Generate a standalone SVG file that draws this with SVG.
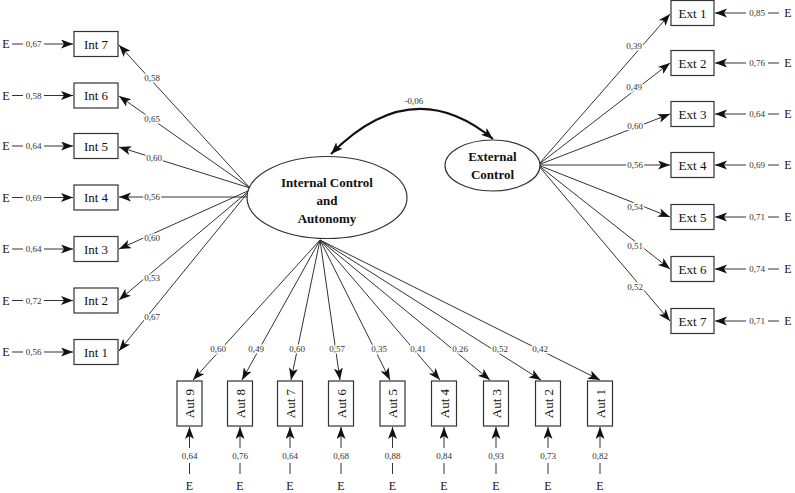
<svg xmlns="http://www.w3.org/2000/svg" width="795" height="493" viewBox="0 0 795 493">
<style>
.bx{fill:#fff;stroke:#333;stroke-width:1.2}
.ln{stroke:#333;stroke-width:1;fill:none}
.bl{font-family:"Liberation Serif","DejaVu Serif",serif;font-size:13px;fill:#111;text-anchor:middle}
.v{font-family:"Liberation Serif","DejaVu Serif",serif;font-size:9px;fill:#333;text-anchor:middle;stroke:#fff;stroke-width:3;paint-order:stroke}
.e{font-family:"Liberation Serif","DejaVu Serif",serif;font-size:12px;fill:#111;text-anchor:middle}
.lv{font-family:"Liberation Serif","DejaVu Serif",serif;font-size:13px;font-weight:bold;fill:#111;text-anchor:middle}
</style>
<defs>
<marker id="ar" markerUnits="userSpaceOnUse" markerWidth="14" markerHeight="10" refX="12" refY="4.5" orient="auto-start-reverse" viewBox="0 0 14 10">
<path d="M0,0 L12,4.5 L0,9 L3,4.5 z" fill="#111"/>
</marker>
</defs>
<g id="connectors">
<!-- correlation -->
<path d="M331,154 Q412,72 493,139" stroke="#111" stroke-width="2" fill="none" marker-start="url(#ar)" marker-end="url(#ar)"/>
<text class="v" x="414" y="104">-0,06</text>
<!-- Int loadings -->
<g class="ln">
<line x1="250" y1="188" x2="119" y2="45" marker-end="url(#ar)"/>
<line x1="250" y1="188" x2="119" y2="96" marker-end="url(#ar)"/>
<line x1="250" y1="188" x2="119" y2="147" marker-end="url(#ar)"/>
<line x1="250" y1="197" x2="119" y2="197" marker-end="url(#ar)"/>
<line x1="250" y1="190" x2="119" y2="249" marker-end="url(#ar)"/>
<line x1="250" y1="190" x2="119" y2="300" marker-end="url(#ar)"/>
<line x1="250" y1="190" x2="119" y2="351" marker-end="url(#ar)"/>
</g>
<text class="v" x="152" y="81">0,58</text>
<text class="v" x="152" y="122">0,65</text>
<text class="v" x="154" y="161">0,60</text>
<text class="v" x="152" y="200">0,56</text>
<text class="v" x="152" y="241">0,60</text>
<text class="v" x="152" y="281">0,53</text>
<text class="v" x="152" y="320">0,67</text>
<!-- Int errors -->
<g class="ln">
<line x1="12" y1="44" x2="23" y2="44"/><line x1="44" y1="44" x2="73" y2="44" marker-end="url(#ar)"/>
<line x1="12" y1="95.5" x2="23" y2="95.5"/><line x1="44" y1="95.5" x2="73" y2="95.5" marker-end="url(#ar)"/>
<line x1="12" y1="146" x2="23" y2="146"/><line x1="44" y1="146" x2="73" y2="146" marker-end="url(#ar)"/>
<line x1="12" y1="197.5" x2="23" y2="197.5"/><line x1="44" y1="197.5" x2="73" y2="197.5" marker-end="url(#ar)"/>
<line x1="12" y1="249" x2="23" y2="249"/><line x1="44" y1="249" x2="73" y2="249" marker-end="url(#ar)"/>
<line x1="12" y1="300.5" x2="23" y2="300.5"/><line x1="44" y1="300.5" x2="73" y2="300.5" marker-end="url(#ar)"/>
<line x1="12" y1="352" x2="23" y2="352"/><line x1="44" y1="352" x2="73" y2="352" marker-end="url(#ar)"/>
</g>
<text class="e" x="6" y="48">E</text><text class="v" x="33.5" y="47">0,67</text>
<text class="e" x="6" y="99.5">E</text><text class="v" x="33.5" y="98.5">0,58</text>
<text class="e" x="6" y="150">E</text><text class="v" x="33.5" y="149">0,64</text>
<text class="e" x="6" y="201.5">E</text><text class="v" x="33.5" y="200.5">0,69</text>
<text class="e" x="6" y="253">E</text><text class="v" x="33.5" y="252">0,64</text>
<text class="e" x="6" y="304.5">E</text><text class="v" x="33.5" y="303.5">0,72</text>
<text class="e" x="6" y="356">E</text><text class="v" x="33.5" y="355">0,56</text>
<!-- Ext loadings -->
<g class="ln">
<line x1="538" y1="165" x2="670" y2="14" marker-end="url(#ar)"/>
<line x1="538" y1="165" x2="670" y2="63" marker-end="url(#ar)"/>
<line x1="538" y1="165" x2="670" y2="114" marker-end="url(#ar)"/>
<line x1="538" y1="165" x2="670" y2="165" marker-end="url(#ar)"/>
<line x1="538" y1="165" x2="670" y2="217" marker-end="url(#ar)"/>
<line x1="538" y1="165" x2="670" y2="269" marker-end="url(#ar)"/>
<line x1="538" y1="165" x2="670" y2="321" marker-end="url(#ar)"/>
</g>
<text class="v" x="634" y="49">0,39</text>
<text class="v" x="634" y="90">0,49</text>
<text class="v" x="635" y="129">0,60</text>
<text class="v" x="635" y="168">0,56</text>
<text class="v" x="635" y="210">0,54</text>
<text class="v" x="635" y="249">0,51</text>
<text class="v" x="635" y="290">0,52</text>
<!-- Ext errors -->
<g class="ln">
<line x1="746" y1="13" x2="715" y2="13" marker-end="url(#ar)"/><line x1="768" y1="13" x2="779" y2="13"/>
<line x1="746" y1="63" x2="715" y2="63" marker-end="url(#ar)"/><line x1="768" y1="63" x2="779" y2="63"/>
<line x1="746" y1="114" x2="715" y2="114" marker-end="url(#ar)"/><line x1="768" y1="114" x2="779" y2="114"/>
<line x1="746" y1="165" x2="715" y2="165" marker-end="url(#ar)"/><line x1="768" y1="165" x2="779" y2="165"/>
<line x1="746" y1="217" x2="715" y2="217" marker-end="url(#ar)"/><line x1="768" y1="217" x2="779" y2="217"/>
<line x1="746" y1="269" x2="715" y2="269" marker-end="url(#ar)"/><line x1="768" y1="269" x2="779" y2="269"/>
<line x1="746" y1="321" x2="715" y2="321" marker-end="url(#ar)"/><line x1="768" y1="321" x2="779" y2="321"/>
</g>
<text class="v" x="757" y="16">0,85</text><text class="e" x="788" y="17">E</text>
<text class="v" x="757" y="66">0,76</text><text class="e" x="788" y="67">E</text>
<text class="v" x="757" y="117">0,64</text><text class="e" x="788" y="118">E</text>
<text class="v" x="757" y="168">0,69</text><text class="e" x="788" y="169">E</text>
<text class="v" x="757" y="220">0,71</text><text class="e" x="788" y="221">E</text>
<text class="v" x="757" y="272">0,74</text><text class="e" x="788" y="273">E</text>
<text class="v" x="757" y="324">0,71</text><text class="e" x="788" y="325">E</text>
<!-- Aut loadings -->
<g class="ln">
<line x1="320" y1="240" x2="193" y2="380" marker-end="url(#ar)"/>
<line x1="320" y1="240" x2="242" y2="380" marker-end="url(#ar)"/>
<line x1="320" y1="240" x2="291" y2="380" marker-end="url(#ar)"/>
<line x1="320" y1="240" x2="340" y2="380" marker-end="url(#ar)"/>
<line x1="320" y1="240" x2="390" y2="380" marker-end="url(#ar)"/>
<line x1="320" y1="240" x2="440" y2="380" marker-end="url(#ar)"/>
<line x1="320" y1="240" x2="490" y2="380" marker-end="url(#ar)"/>
<line x1="320" y1="240" x2="541" y2="380" marker-end="url(#ar)"/>
<line x1="320" y1="240" x2="600" y2="380" marker-end="url(#ar)"/>
</g>
<text class="v" x="218" y="352">0,60</text>
<text class="v" x="256" y="352">0,49</text>
<text class="v" x="297" y="352">0,60</text>
<text class="v" x="337" y="352">0,57</text>
<text class="v" x="379" y="352">0,35</text>
<text class="v" x="418" y="352">0,41</text>
<text class="v" x="460" y="352">0,26</text>
<text class="v" x="500" y="352">0,52</text>
<text class="v" x="540" y="352">0,42</text>
<!-- Aut errors -->
<g class="ln">
<line x1="189.5" y1="448" x2="189.5" y2="427" marker-end="url(#ar)"/><line x1="189.5" y1="463" x2="189.5" y2="474"/>
<line x1="240" y1="448" x2="240" y2="427" marker-end="url(#ar)"/><line x1="240" y1="463" x2="240" y2="474"/>
<line x1="290" y1="448" x2="290" y2="427" marker-end="url(#ar)"/><line x1="290" y1="463" x2="290" y2="474"/>
<line x1="341" y1="448" x2="341" y2="427" marker-end="url(#ar)"/><line x1="341" y1="463" x2="341" y2="474"/>
<line x1="392.5" y1="448" x2="392.5" y2="427" marker-end="url(#ar)"/><line x1="392.5" y1="463" x2="392.5" y2="474"/>
<line x1="444" y1="448" x2="444" y2="427" marker-end="url(#ar)"/><line x1="444" y1="463" x2="444" y2="474"/>
<line x1="496" y1="448" x2="496" y2="427" marker-end="url(#ar)"/><line x1="496" y1="463" x2="496" y2="474"/>
<line x1="548" y1="448" x2="548" y2="427" marker-end="url(#ar)"/><line x1="548" y1="463" x2="548" y2="474"/>
<line x1="600" y1="448" x2="600" y2="427" marker-end="url(#ar)"/><line x1="600" y1="463" x2="600" y2="474"/>
</g>
<text class="v" x="189.5" y="459">0,64</text><text class="e" x="189.5" y="490">E</text>
<text class="v" x="240" y="459">0,76</text><text class="e" x="240" y="490">E</text>
<text class="v" x="290" y="459">0,64</text><text class="e" x="290" y="490">E</text>
<text class="v" x="341" y="459">0,68</text><text class="e" x="341" y="490">E</text>
<text class="v" x="392.5" y="459">0,88</text><text class="e" x="392.5" y="490">E</text>
<text class="v" x="444" y="459">0,84</text><text class="e" x="444" y="490">E</text>
<text class="v" x="496" y="459">0,93</text><text class="e" x="496" y="490">E</text>
<text class="v" x="548" y="459">0,73</text><text class="e" x="548" y="490">E</text>
<text class="v" x="600" y="459">0,82</text><text class="e" x="600" y="490">E</text>
</g>
<g id="internal"><ellipse cx="327" cy="197.5" rx="80" ry="41" class="bx"/>
<text class="lv" x="327" y="187">Internal Control</text><text class="lv" x="327" y="205">and</text><text class="lv" x="327" y="223">Autonomy</text></g>
<g id="external"><ellipse cx="492.5" cy="165.5" rx="47.5" ry="25.5" class="bx"/>
<text class="lv" x="492.5" y="161">External</text><text class="lv" x="492.5" y="179">Control</text></g>
<g id="int7"><rect class="bx" x="74" y="31.5" width="44" height="25"/><text class="bl" x="96" y="48.5">Int 7</text></g>
<g id="int6"><rect class="bx" x="74" y="83" width="44" height="25"/><text class="bl" x="96" y="100">Int 6</text></g>
<g id="int5"><rect class="bx" x="74" y="133.5" width="44" height="25"/><text class="bl" x="96" y="150.5">Int 5</text></g>
<g id="int4"><rect class="bx" x="74" y="185" width="44" height="25"/><text class="bl" x="96" y="202">Int 4</text></g>
<g id="int3"><rect class="bx" x="74" y="236.5" width="44" height="25"/><text class="bl" x="96" y="253.5">Int 3</text></g>
<g id="int2"><rect class="bx" x="74" y="288" width="44" height="25"/><text class="bl" x="96" y="305">Int 2</text></g>
<g id="int1"><rect class="bx" x="74" y="339.5" width="44" height="25"/><text class="bl" x="96" y="356.5">Int 1</text></g>
<g id="ext1"><rect class="bx" x="671" y="0.5" width="43" height="25"/><text class="bl" x="692.5" y="17.5">Ext 1</text></g>
<g id="ext2"><rect class="bx" x="671" y="50.5" width="43" height="25"/><text class="bl" x="692.5" y="67.5">Ext 2</text></g>
<g id="ext3"><rect class="bx" x="671" y="101.5" width="43" height="25"/><text class="bl" x="692.5" y="118.5">Ext 3</text></g>
<g id="ext4"><rect class="bx" x="671" y="152.5" width="43" height="25"/><text class="bl" x="692.5" y="169.5">Ext 4</text></g>
<g id="ext5"><rect class="bx" x="671" y="204.5" width="43" height="25"/><text class="bl" x="692.5" y="221.5">Ext 5</text></g>
<g id="ext6"><rect class="bx" x="671" y="256.5" width="43" height="25"/><text class="bl" x="692.5" y="273.5">Ext 6</text></g>
<g id="ext7"><rect class="bx" x="671" y="308.5" width="43" height="25"/><text class="bl" x="692.5" y="325.5">Ext 7</text></g>
<g id="aut9"><rect class="bx" x="177" y="381" width="25" height="45"/><text class="bl" transform="translate(194,403.5) rotate(-90)">Aut 9</text></g>
<g id="aut8"><rect class="bx" x="227.5" y="381" width="25" height="45"/><text class="bl" transform="translate(244.5,403.5) rotate(-90)">Aut 8</text></g>
<g id="aut7"><rect class="bx" x="277.5" y="381" width="25" height="45"/><text class="bl" transform="translate(294.5,403.5) rotate(-90)">Aut 7</text></g>
<g id="aut6"><rect class="bx" x="328.5" y="381" width="25" height="45"/><text class="bl" transform="translate(345.5,403.5) rotate(-90)">Aut 6</text></g>
<g id="aut5"><rect class="bx" x="380" y="381" width="25" height="45"/><text class="bl" transform="translate(397,403.5) rotate(-90)">Aut 5</text></g>
<g id="aut4"><rect class="bx" x="431.5" y="381" width="25" height="45"/><text class="bl" transform="translate(448.5,403.5) rotate(-90)">Aut 4</text></g>
<g id="aut3"><rect class="bx" x="483.5" y="381" width="25" height="45"/><text class="bl" transform="translate(500.5,403.5) rotate(-90)">Aut 3</text></g>
<g id="aut2"><rect class="bx" x="535.5" y="381" width="25" height="45"/><text class="bl" transform="translate(552.5,403.5) rotate(-90)">Aut 2</text></g>
<g id="aut1"><rect class="bx" x="587.5" y="381" width="25" height="45"/><text class="bl" transform="translate(604.5,403.5) rotate(-90)">Aut 1</text></g>
</svg>
